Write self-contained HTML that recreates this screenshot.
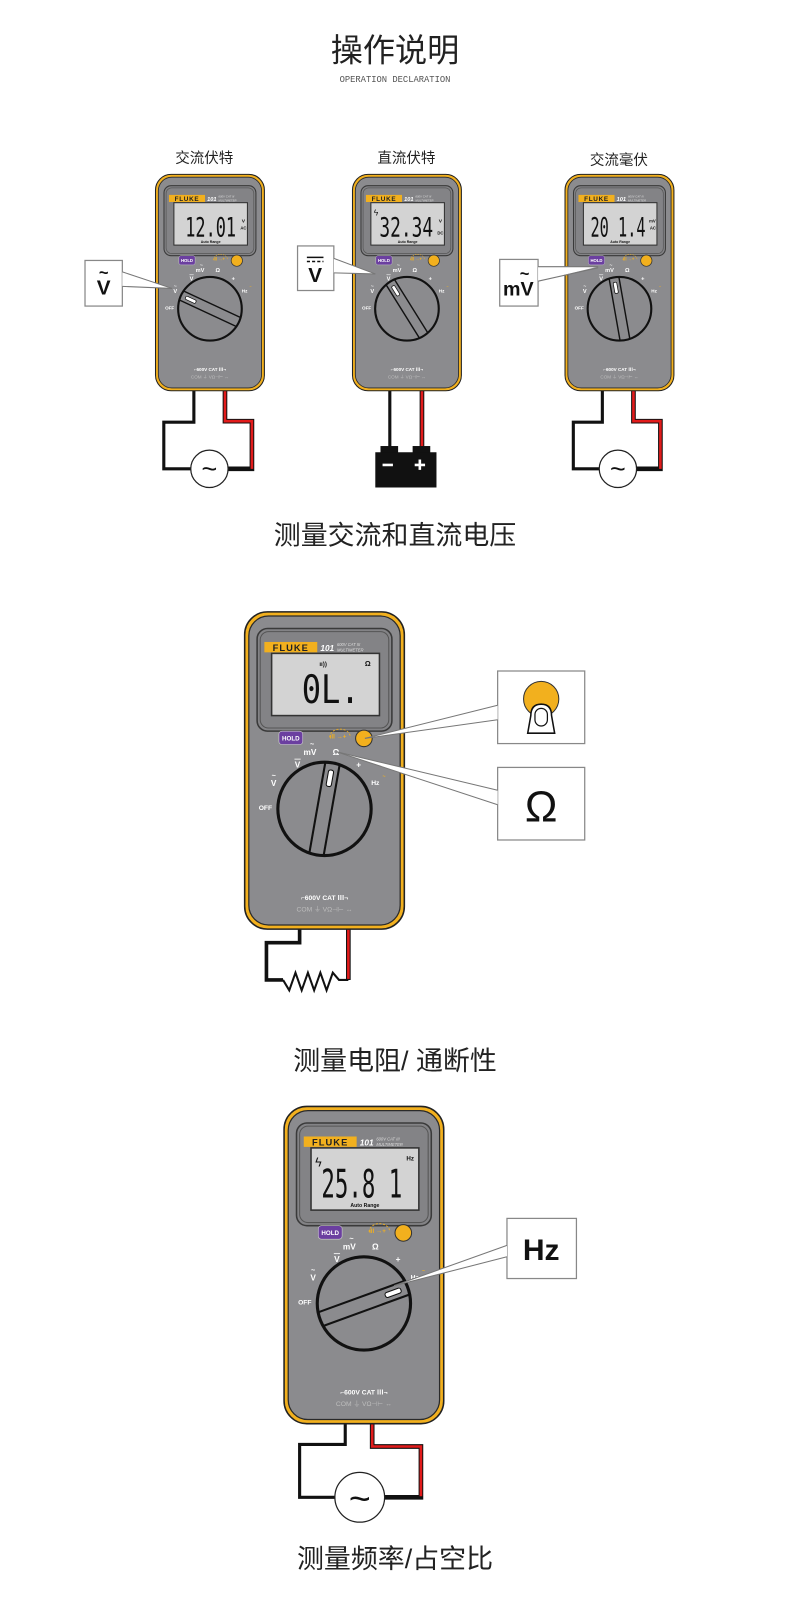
<!DOCTYPE html>
<html><head><meta charset="utf-8"><style>
html,body{margin:0;padding:0;background:#fff;}
svg{display:block;}
text{font-family:"Liberation Sans","Noto Sans CJK SC",sans-serif;}
.cn{font-family:"Liberation Sans","Noto Sans CJK SC",sans-serif;fill:#222;}
.lcd{font-family:"DejaVu Sans Mono","Liberation Mono",monospace;fill:#111;}
.w{fill:#fff;font-weight:bold;}
</style></head><body>
<svg width="790" height="1624" viewBox="0 0 762 1566" xmlns="http://www.w3.org/2000/svg">
<defs>
<g id="body">
  <rect x="0" y="0" width="154" height="306" rx="22" fill="#f2b01e" stroke="#222" stroke-width="1.5"/>
  <rect x="4" y="4" width="146" height="298" rx="19" fill="#8b8b8e" stroke="#2a2a2a" stroke-width="1.2"/>
  <rect x="12" y="16" width="130" height="99" rx="10" fill="#838386" stroke="#3a3a3a" stroke-width="1.5"/>
  <rect x="15" y="19" width="124" height="93" rx="8" fill="none" stroke="#555" stroke-width="1"/>
  <rect x="19" y="29" width="51" height="10" fill="#f2b01e"/>
  <text x="44.5" y="37.6" font-size="9" font-weight="bold" fill="#222" text-anchor="middle" letter-spacing="1">FLUKE</text>
  <text x="73" y="37.6" font-size="8" font-weight="bold" font-style="italic" fill="#fff">101</text>
  <text x="89" y="33" font-size="4" font-style="italic" fill="#ddd">600V CAT III</text>
  <text x="89" y="38" font-size="4" font-style="italic" fill="#ddd">MULTIMETER</text>
  <rect x="26" y="40" width="104" height="60" fill="#d3d3d3" stroke="#333" stroke-width="1.5"/>
  <rect x="33" y="115" width="23" height="13" rx="3" fill="#6b3fa0" stroke="#ccc" stroke-width="0.6"/>
  <text x="44.5" y="124" font-size="6" class="w" text-anchor="middle">HOLD</text>
  <circle cx="115" cy="122" r="8" fill="#f2b01e" stroke="#333" stroke-width="1"/>
  <path d="M82,121 a10,8 0 0 1 20,0" fill="none" stroke="#f2b01e" stroke-width="0.8" stroke-dasharray="2,1.5"/>
  <text x="82" y="122" font-size="6" fill="#f2b01e" font-weight="bold">ıll →+</text>
  <text x="63" y="138" font-size="8" class="w" text-anchor="middle">mV</text>
  <text x="65" y="130" font-size="7" class="w" text-anchor="middle">~</text>
  <text x="88" y="138" font-size="8" class="w" text-anchor="middle">Ω</text>
  <text x="51" y="150" font-size="8" class="w" text-anchor="middle">V</text>
  <line x1="48" y1="142" x2="54" y2="142" stroke="#fff" stroke-width="0.8"/>
  <text x="28" y="168" font-size="8" class="w" text-anchor="middle">V</text>
  <text x="28" y="160" font-size="7" class="w" text-anchor="middle">~</text>
  <text x="20" y="191" font-size="6.5" class="w" text-anchor="middle">OFF</text>
  <text x="126" y="167" font-size="6.5" class="w" text-anchor="middle">Hz</text>
  <text x="133" y="160" font-size="5" fill="#f2b01e" font-weight="bold">~</text>
  <text x="110" y="150" font-size="8" class="w" text-anchor="middle">+</text>
  <circle cx="77" cy="190" r="45" fill="#8b8b8e" stroke="#111" stroke-width="3"/>
  <text x="77" y="278" font-size="6.5" class="w" text-anchor="middle">⌐600V CAT Ⅲ¬</text>
  <text x="77" y="289" font-size="6.5" fill="#bdbdbd" text-anchor="middle">COM  ⏚  VΩ⊣⊢ ↔</text>
</g>
<g id="ptr">
  <line x1="33" y1="183" x2="121" y2="183" stroke="#111" stroke-width="2"/>
  <line x1="33" y1="197" x2="121" y2="197" stroke="#111" stroke-width="2"/>
  <rect x="99" y="187.5" width="16" height="5" rx="2" fill="#fff" stroke="#111" stroke-width="1"/>
</g>
</defs>

<text x="381" y="59" font-size="31" class="cn" text-anchor="middle">操作说明</text>
<text x="381" y="79" font-size="8.5" fill="#555" text-anchor="middle" style="font-family:'Liberation Mono',monospace">OPERATION DECLARATION</text>

<text x="197" y="157" font-size="14" class="cn" text-anchor="middle">交流伏特</text>
<text x="392" y="157" font-size="14" class="cn" text-anchor="middle">直流伏特</text>
<text x="597" y="159" font-size="14" class="cn" text-anchor="middle">交流毫伏</text>

<g fill="none" stroke-linejoin="miter">
  <polyline points="187,372 187,407 158,407 158,452 184,452" stroke="#111" stroke-width="3"/>
  <polyline points="217,372 217,406 243,406 243,452 220,452" stroke="#111" stroke-width="4.5"/>
  <polyline points="217,372 217,406 243,406 243,452" stroke="#e21b1b" stroke-width="2.5"/>
  <polyline points="376,370 376,432" stroke="#111" stroke-width="3"/>
  <polyline points="407,370 407,432" stroke="#111" stroke-width="4.5"/>
  <polyline points="407,370 407,432" stroke="#e21b1b" stroke-width="2.5"/>
  <polyline points="581,372 581,407 553,407 553,452 578,452" stroke="#111" stroke-width="3"/>
  <polyline points="611,372 611,406 637,406 637,452 614,452" stroke="#111" stroke-width="4.5"/>
  <polyline points="611,372 611,406 637,406 637,452" stroke="#e21b1b" stroke-width="2.5"/>
</g>
<circle cx="202" cy="452" r="18" fill="#fff" stroke="#222" stroke-width="1.2"/>
<text x="202" y="461" font-size="26" text-anchor="middle" fill="#111">~</text>
<circle cx="596" cy="452" r="18" fill="#fff" stroke="#222" stroke-width="1.2"/>
<text x="596" y="461" font-size="26" text-anchor="middle" fill="#111">~</text>
<rect x="367" y="430" width="17" height="7" fill="#111"/>
<rect x="398" y="430" width="17" height="7" fill="#111"/>
<rect x="362" y="436" width="59" height="34" fill="#111"/>
<rect x="369" y="447" width="10" height="2.5" fill="#fff"/>
<rect x="400" y="447" width="10" height="2.5" fill="#fff"/>
<rect x="403.7" y="443" width="2.5" height="10" fill="#fff"/>

<g transform="translate(150,168) scale(0.682)">
  <use href="#body"/>
  <g transform="rotate(-155 77 190)"><use href="#ptr"/></g>
  <text x="42" y="88" font-size="38" class="lcd" textLength="72" lengthAdjust="spacingAndGlyphs">12.01</text>
  <text x="122" y="68" font-size="7" font-weight="bold" fill="#111">V</text>
  <text x="120" y="78" font-size="6" font-weight="bold" fill="#111">AC</text>
  <text x="78" y="97" font-size="5" font-weight="bold" fill="#111" text-anchor="middle">Auto Range</text>
</g>
<g transform="translate(340,168) scale(0.682)">
  <use href="#body"/>
  <g transform="rotate(-122 77 190)"><use href="#ptr"/></g>
  <text x="30" y="58" font-size="12" fill="#111">ϟ</text>
  <text x="38" y="88" font-size="38" class="lcd" textLength="76" lengthAdjust="spacingAndGlyphs">32.34</text>
  <text x="122" y="68" font-size="7" font-weight="bold" fill="#111">V</text>
  <text x="120" y="85" font-size="6" font-weight="bold" fill="#111">DC</text>
  <text x="78" y="97" font-size="5" font-weight="bold" fill="#111" text-anchor="middle">Auto Range</text>
</g>
<g transform="translate(545,168) scale(0.682)">
  <use href="#body"/>
  <g transform="rotate(-100 77 190)"><use href="#ptr"/></g>
  <text x="36" y="88" font-size="38" class="lcd" textLength="78" lengthAdjust="spacingAndGlyphs">20 1.4</text>
  <text x="119" y="68" font-size="6" font-weight="bold" fill="#111">mV</text>
  <text x="120" y="78" font-size="6" font-weight="bold" fill="#111">AC</text>
  <text x="78" y="97" font-size="5" font-weight="bold" fill="#111" text-anchor="middle">Auto Range</text>
</g>

<rect x="82" y="251" width="36" height="44" fill="#fff" stroke="#888" stroke-width="1.2"/>
<polygon points="118,262 166,278 118,276" fill="#fff"/>
<line x1="118" y1="262" x2="166" y2="278" stroke="#777" stroke-width="1"/>
<line x1="118" y1="276" x2="166" y2="278" stroke="#777" stroke-width="1"/>
<text x="100" y="284" font-size="20" font-weight="bold" fill="#111" text-anchor="middle">V</text>
<text x="100" y="268" font-size="16" font-weight="bold" fill="#111" text-anchor="middle">~</text>

<rect x="287" y="237" width="35" height="43" fill="#fff" stroke="#888" stroke-width="1.2"/>
<polygon points="322,249 362,264 322,263" fill="#fff"/>
<line x1="322" y1="249" x2="362" y2="264" stroke="#777" stroke-width="1"/>
<line x1="322" y1="263" x2="362" y2="264" stroke="#777" stroke-width="1"/>
<text x="304" y="272" font-size="20" font-weight="bold" fill="#111" text-anchor="middle">V</text>
<line x1="296" y1="248" x2="312" y2="248" stroke="#111" stroke-width="1.5"/>
<line x1="296" y1="252" x2="312" y2="252" stroke="#111" stroke-width="1.5" stroke-dasharray="3,2"/>

<rect x="482" y="250" width="37" height="45" fill="#fff" stroke="#888" stroke-width="1.2"/>
<polygon points="519,257 577,257 519,271" fill="#fff"/>
<line x1="519" y1="257" x2="577" y2="257" stroke="#777" stroke-width="1"/>
<line x1="519" y1="271" x2="577" y2="258" stroke="#777" stroke-width="1"/>
<text x="500" y="285" font-size="19" font-weight="bold" fill="#111" text-anchor="middle">mV</text>
<text x="506" y="269" font-size="16" font-weight="bold" fill="#111" text-anchor="middle">~</text>

<text x="381" y="525" font-size="26" class="cn" text-anchor="middle">测量交流和直流电压</text>

<g fill="none">
  <polyline points="289,893 289,909 257,909 257,945 273,945" stroke="#111" stroke-width="3.5"/>
  <polyline points="273,945 279,955 285,938 291,955 297,938 303,955 309,938 315,955 321,938 327,945 336,945" stroke="#111" stroke-width="2"/>
  <polyline points="336,893 336,945" stroke="#111" stroke-width="4.5"/>
  <polyline points="336,893 336,944" stroke="#e21b1b" stroke-width="2.5"/>
</g>
<g transform="translate(236,590)">
  <use href="#body"/>
  <g transform="rotate(-80 77 190)"><use href="#ptr"/></g>
  <text x="55" y="88" font-size="38" class="lcd" textLength="56" lengthAdjust="spacingAndGlyphs">0L.</text>
  <text x="72" y="52" font-size="6" font-weight="bold" fill="#111">ıı))</text>
  <text x="116" y="52" font-size="7" font-weight="bold" fill="#111">Ω</text>
</g>
<rect x="480" y="647" width="84" height="70" fill="#fff" stroke="#888" stroke-width="1.2"/>
<polygon points="480,680 352,712 480,694" fill="#fff"/>
<line x1="480" y1="680" x2="352" y2="712" stroke="#777" stroke-width="1"/>
<line x1="480" y1="694" x2="352" y2="712" stroke="#777" stroke-width="1"/>
<circle cx="522" cy="674" r="17" fill="#f2b01e" stroke="#333" stroke-width="1"/>
<path d="M509,707 L512,690 Q512,679 522,679 Q532,679 532,690 L535,707 Z" fill="#fff" stroke="#111" stroke-width="1.5"/>
<rect x="516" y="683" width="12" height="17" rx="6" fill="#fff" stroke="#111" stroke-width="1.2"/>
<rect x="480" y="740" width="84" height="70" fill="#fff" stroke="#888" stroke-width="1.2"/>
<polygon points="480,762 325,725 480,776" fill="#fff"/>
<line x1="480" y1="762" x2="325" y2="725" stroke="#777" stroke-width="1"/>
<line x1="480" y1="776" x2="325" y2="725" stroke="#777" stroke-width="1"/>
<text x="522" y="792" font-size="42" fill="#111" text-anchor="middle">Ω</text>

<text x="381" y="1032" font-size="26" class="cn" text-anchor="middle">测量电阻/ 通断性</text>

<g fill="none">
  <polyline points="333,1366 333,1393 289,1393 289,1444 323,1444" stroke="#111" stroke-width="3"/>
  <polyline points="359,1366 359,1395 406,1395 406,1444 371,1444" stroke="#111" stroke-width="4.5"/>
  <polyline points="359,1366 359,1395 406,1395 406,1443" stroke="#e21b1b" stroke-width="2.5"/>
</g>
<circle cx="347" cy="1444" r="24" fill="#fff" stroke="#222" stroke-width="1.2"/>
<text x="347" y="1457" font-size="36" text-anchor="middle" fill="#111">~</text>
<g transform="translate(274,1067)">
  <use href="#body"/>
  <g transform="rotate(-20 77 190)"><use href="#ptr"/></g>
  <text x="30" y="58" font-size="12" fill="#111">ϟ</text>
  <text x="36" y="88" font-size="38" class="lcd" textLength="78" lengthAdjust="spacingAndGlyphs">25.8 1</text>
  <text x="118" y="52" font-size="6" font-weight="bold" fill="#111">Hz</text>
  <text x="78" y="97" font-size="5" font-weight="bold" fill="#111" text-anchor="middle">Auto Range</text>
</g>
<rect x="489" y="1175" width="67" height="58" fill="#fff" stroke="#888" stroke-width="1.2"/>
<polygon points="489,1201 380,1240 489,1212" fill="#fff"/>
<line x1="489" y1="1201" x2="380" y2="1240" stroke="#777" stroke-width="1"/>
<line x1="489" y1="1212" x2="380" y2="1240" stroke="#777" stroke-width="1"/>
<text x="522" y="1215" font-size="29" font-weight="bold" fill="#111" text-anchor="middle">Hz</text>

<text x="381" y="1512" font-size="26" class="cn" text-anchor="middle">测量频率/占空比</text>
</svg>
</body></html>
